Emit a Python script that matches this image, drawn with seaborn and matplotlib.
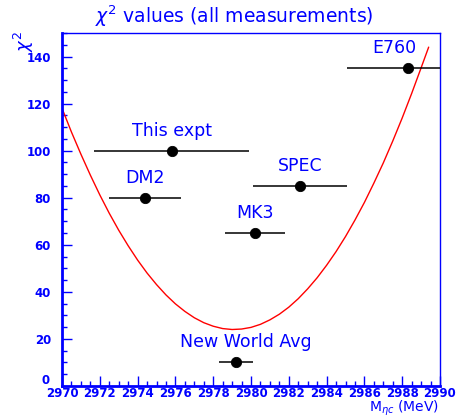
import numpy as np
import pandas as pd
import seaborn as sns
import matplotlib.pyplot as plt
from matplotlib.ticker import MultipleLocator

# measurements of the eta_c mass (MeV) and chi^2 height used for display
names = ['This expt', 'DM2', 'MK3', 'SPEC', 'E760', 'New World Avg']
mass = [2975.8, 2974.4, 2980.2, 2982.6, 2988.3, 2979.2]
mass_err = [4.1, 1.9, 1.6, 2.5, 3.2, 0.9]
chi2_level = [100, 80, 65, 85, 135, 10]

# chi^2 curve
curve_m = [2970, 2970.5, 2971, 2971.5, 2972, 2972.5, 2973, 2973.5, 2974, 2974.5,
           2975, 2975.5, 2976, 2976.5, 2977, 2977.5, 2978, 2978.5, 2979, 2979.5,
           2980, 2980.5, 2981, 2981.5, 2982, 2982.5, 2983, 2983.5, 2984, 2984.5,
           2985, 2985.5, 2986, 2986.5, 2987, 2987.5, 2988, 2988.5, 2989, 2989.4]
curve_chi2 = [118.0, 107.9, 98.5, 89.6, 81.2, 73.4, 66.2, 59.6, 53.5, 48.0,
              43.1, 38.7, 34.9, 31.7, 29.0, 26.9, 25.4, 24.4, 24.0, 24.2,
              24.9, 26.2, 28.1, 30.5, 33.5, 37.1, 41.3, 46.0, 51.3, 57.1,
              63.5, 70.5, 78.0, 86.2, 94.8, 104.1, 113.9, 124.3, 135.2, 144.0]

blue = '#0000ff'

sns.set_style('ticks')
plt.rcParams['font.family'] = ['DejaVu Sans']

fig = plt.figure(figsize=(4.57, 4.19), dpi=100)
ax = fig.add_axes([0.1357, 0.0788, 0.8271, 0.8424])

curve = pd.DataFrame({'m': curve_m, 'chi2': curve_chi2})
sns.lineplot(data=curve, x='m', y='chi2', color='red', lw=1, ax=ax)

pts = pd.DataFrame({'name': names, 'm': mass, 'err': mass_err, 'chi2': chi2_level})
ax.hlines(pts.chi2, pts.m - pts.err, pts.m + pts.err, color='black', lw=1.1, zorder=3)
sns.scatterplot(data=pts, x='m', y='chi2', color='black', s=55, edgecolor='black',
                zorder=4, ax=ax)

# small horizontal nudges (MeV) so labels stay inside the frame
nudge = {'E760': -0.7, 'New World Avg': 0.5}
for _, r in pts.iterrows():
    ax.annotate(r['name'], (r.m + nudge.get(r['name'], 0), r.chi2),
                xytext=(0, 8), textcoords='offset points', ha='center', va='bottom',
                color=blue, fontsize=12.5)

ax.set_xlim(2970, 2990)
ax.set_ylim(0, 150)
ax.xaxis.set_major_locator(MultipleLocator(2))
ax.xaxis.set_minor_locator(MultipleLocator(0.5))
ax.yaxis.set_major_locator(MultipleLocator(20))
ax.yaxis.set_minor_locator(MultipleLocator(5))
ax.set_yticks([20, 40, 60, 80, 100, 120, 140])
ax.tick_params(axis='both', which='both', direction='in', colors=blue,
               labelcolor=blue, labelsize=8.5)
ax.tick_params(axis='both', which='major', length=7, width=1)
ax.tick_params(axis='both', which='minor', length=3.5, width=1)
ax.tick_params(axis='y', pad=8)
ax.tick_params(axis='x', pad=1)
for lab in ax.get_xticklabels() + ax.get_yticklabels():
    lab.set_fontweight('bold')
for side in ['left', 'bottom']:
    ax.spines[side].set_color(blue)
    ax.spines[side].set_linewidth(2)
for side in ['right', 'top']:
    ax.spines[side].set_visible(True)
    ax.spines[side].set_color(blue)
    ax.spines[side].set_linewidth(1)

ax.set_xlabel('')
ax.set_ylabel('')
fig.text(46 / 457, 1 - 380 / 419, '0', color=blue, fontsize=8.5, fontweight='bold',
         ha='center', va='center')
fig.text(0.512, 0.962, r'$\chi^2$ values (all measurements)', color=blue,
         fontsize=13.5, ha='center', va='center')
fig.text(0.052, 0.90, r'$\chi^2$', color=blue, fontsize=13, rotation=90,
         ha='center', va='center')
fig.text(0.96, 1 - 412 / 419, r'M$_{\eta c}$ (MeV)', color=blue, fontsize=10,
         ha='right', va='baseline')

fig.savefig('out.png', dpi=100)
